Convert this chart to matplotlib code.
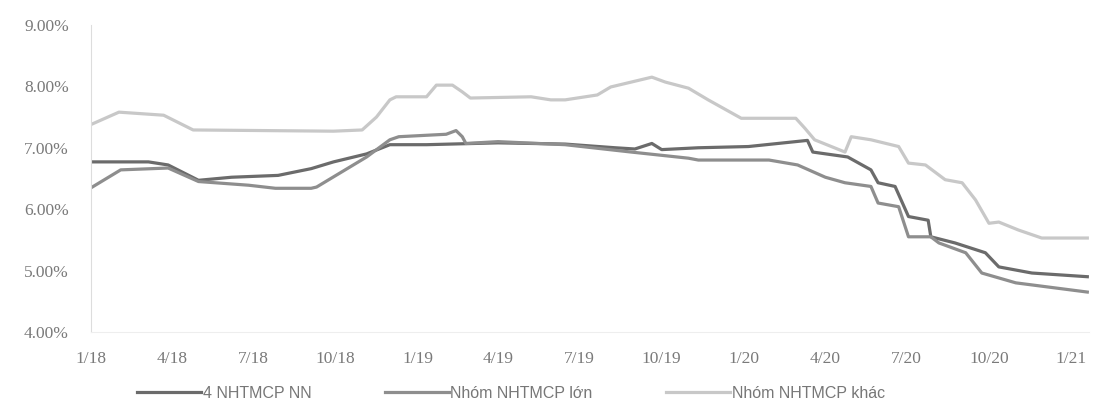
import pandas as pd
import matplotlib
matplotlib.use("Agg")
import matplotlib.pyplot as plt
import matplotlib.dates as mdates
from matplotlib.ticker import FuncFormatter

# 4 NHTMCP NN
nn_dates = ["2018-01-01", "2018-03-06", "2018-03-28", "2018-05-01", "2018-06-07", "2018-07-29",
            "2018-09-04", "2018-09-29", "2018-11-05", "2018-12-01", "2019-01-11", "2019-04-01",
            "2019-06-15", "2019-08-10", "2019-09-01", "2019-09-20", "2019-10-01", "2019-11-11",
            "2020-01-06", "2020-03-12", "2020-03-18", "2020-04-26", "2020-05-22", "2020-05-30",
            "2020-06-18", "2020-07-03", "2020-07-25", "2020-07-28", "2020-08-24", "2020-09-27",
            "2020-10-12", "2020-11-18", "2021-01-19"]
nn_vals = [6.77, 6.77, 6.72, 6.47, 6.52, 6.55,
           6.66, 6.77, 6.90, 7.05, 7.05, 7.08,
           7.06, 7.00, 6.98, 7.07, 6.97, 7.00,
           7.02, 7.12, 6.93, 6.85, 6.64, 6.43,
           6.37, 5.88, 5.82, 5.55, 5.45, 5.29,
           5.06, 4.96, 4.90]

# Nhóm NHTMCP lớn
lon_dates = ["2018-01-01", "2018-02-03", "2018-03-28", "2018-05-01", "2018-06-26", "2018-07-26",
             "2018-09-04", "2018-09-10", "2018-11-05", "2018-12-01", "2018-12-11", "2019-02-02",
             "2019-02-13", "2019-02-20", "2019-02-24", "2019-04-01", "2019-06-15", "2019-08-28",
             "2019-10-31", "2019-11-11", "2020-01-29", "2020-03-01", "2020-04-01", "2020-04-23",
             "2020-05-22", "2020-05-30", "2020-06-22", "2020-07-03", "2020-07-28", "2020-08-06",
             "2020-09-05", "2020-09-23", "2020-10-31", "2021-01-19"]
lon_vals = [6.35, 6.64, 6.67, 6.45, 6.39, 6.34,
            6.34, 6.36, 6.85, 7.13, 7.18, 7.22,
            7.28, 7.18, 7.07, 7.10, 7.05, 6.93,
            6.83, 6.80, 6.80, 6.72, 6.52, 6.43,
            6.37, 6.10, 6.04, 5.55, 5.55, 5.45,
            5.29, 4.96, 4.80, 4.65]

# Nhóm NHTMCP khác
khac_dates = ["2018-01-01", "2018-02-01", "2018-03-23", "2018-04-25", "2018-09-29", "2018-10-31",
              "2018-11-16", "2018-12-01", "2018-12-08", "2019-01-11", "2019-01-22", "2019-02-09",
              "2019-02-20", "2019-03-01", "2019-05-08", "2019-05-30", "2019-06-15", "2019-07-21",
              "2019-08-05", "2019-08-28", "2019-09-20", "2019-10-05", "2019-10-31", "2019-11-22",
              "2019-12-29", "2020-02-28", "2020-03-09", "2020-03-20", "2020-04-23", "2020-04-30",
              "2020-05-22", "2020-06-22", "2020-07-03", "2020-07-22", "2020-08-13", "2020-09-01",
              "2020-09-16", "2020-10-01", "2020-10-12", "2020-11-03", "2020-11-29", "2021-01-19"]
khac_vals = [7.38, 7.58, 7.53, 7.29, 7.27, 7.29,
             7.50, 7.78, 7.83, 7.83, 8.02, 8.02,
             7.91, 7.81, 7.83, 7.78, 7.78, 7.86,
             7.99, 8.07, 8.15, 8.07, 7.97, 7.78,
             7.48, 7.48, 7.32, 7.13, 6.93, 7.18,
             7.13, 7.02, 6.75, 6.72, 6.48, 6.43,
             6.15, 5.77, 5.79, 5.66, 5.53, 5.53]

fig = plt.figure(figsize=(10.99, 4.16), dpi=100)
ax = fig.add_axes([0.083, 0.202, 0.908, 0.738])

ax.plot(pd.to_datetime(nn_dates), nn_vals, color="#6b6b6b", lw=2.3, label="4 NHTMCP NN")
ax.plot(pd.to_datetime(lon_dates), lon_vals, color="#8e8e8e", lw=2.3, label="Nhóm NHTMCP lớn")
ax.plot(pd.to_datetime(khac_dates), khac_vals, color="#c8c8c8", lw=2.3, label="Nhóm NHTMCP khác")

ax.set_ylim(4, 9)
ax.set_yticks([4, 5, 6, 7, 8, 9])
ax.yaxis.set_major_formatter(FuncFormatter(lambda v, p: f"{v:.2f}%"))
ax.set_xlim(pd.Timestamp("2018-01-01"), pd.Timestamp("2021-01-21"))
ax.xaxis.set_major_locator(mdates.MonthLocator(bymonth=[1, 4, 7, 10]))
ax.xaxis.set_major_formatter(FuncFormatter(
    lambda v, p: f"{mdates.num2date(v).month}/{mdates.num2date(v).year % 100}"))

for lab in ax.get_xticklabels() + ax.get_yticklabels():
    lab.set_family("Liberation Serif")
ax.tick_params(length=0, labelsize=12.5, colors="#7a7a7a")
ax.tick_params(axis="x", pad=14)
ax.tick_params(axis="y", pad=16)

for s in ["top", "right"]:
    ax.spines[s].set_visible(False)
ax.spines["left"].set_color("#dddddd")
ax.spines["bottom"].set_color("#eeeeee")

fig.legend(loc="center", bbox_to_anchor=(0.465, 0.055), ncol=3, frameon=False,
           handlelength=4.0, columnspacing=4.6, handletextpad=0.1,
           prop={"family": "Liberation Sans", "size": 11.5}, labelcolor="#777777")

fig.savefig("out.png", dpi=100, facecolor="white")
